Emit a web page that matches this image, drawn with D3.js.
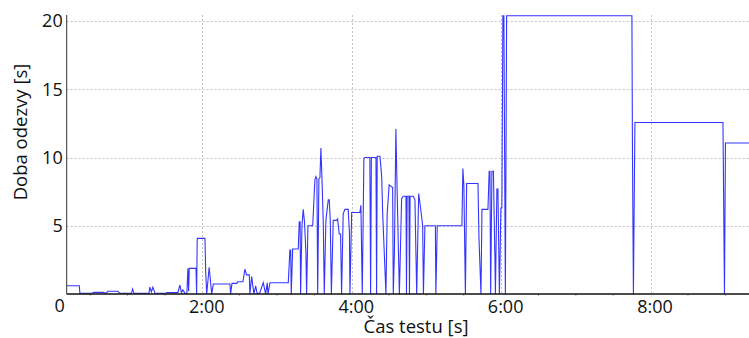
<!DOCTYPE html>
<html>
<head>
<meta charset="utf-8">
<script src="https://cdn.jsdelivr.net/npm/d3@7"></script>
<style>
  body { margin: 0; background: #fff; }
  text { font-family: "Open Sans", sans-serif; fill: #111; }
</style>
</head>
<body>
<div id="chart"></div>
<script>
// test time in seconds
const times = [
  11.2, 21.3, 21.8, 31.5, 33.1, 40.3, 42.7, 44.3, 52.3, 53.9,
  63.2, 64.1, 65.2, 77.2, 78.0, 79.2, 80.4, 82.1, 90.9, 91.7,
  100.5, 102.1, 103.3, 104.5, 106.1, 107.7, 108.5, 109.1, 109.6, 115.0,
  115.5, 116.0, 122.2, 122.8, 123.6, 125.6, 127.6, 128.9, 142.3, 142.8,
  143.9, 147.9, 148.3, 152.7, 154.3, 155.6, 157.8, 158.3, 159.7, 161.5,
  162.9, 164.2, 166.3, 169.0, 170.9, 172.2, 172.8, 174.4, 189.1, 190.4,
  191.0, 191.5, 192.6, 197.1, 197.9, 198.6, 199.0, 200.1, 201.1, 202.1,
  203.3, 203.8, 204.9, 208.7, 210.5, 211.3, 212.1, 212.7, 213.7, 214.5,
  215.3, 216.1, 217.2, 218.0, 219.3, 221.2, 222.0, 222.8, 223.7, 225.2,
  227.9, 228.7, 230.0, 231.1, 231.9, 233.2, 234.6, 237.2, 238.2, 238.6,
  240.0, 246.6, 247.4, 248.5, 249.8, 250.6, 254.6, 255.2, 255.8, 259.5,
  260.0, 260.5, 262.7, 264.1, 264.9, 267.5, 268.5, 270.1, 272.9, 273.4,
  274.3, 275.5, 276.6, 278.3, 280.1, 281.4, 283.6, 284.0, 284.5, 286.0,
  286.4, 286.9, 289.4, 290.8, 292.2, 293.8, 295.6, 297.0, 297.6, 298.8,
  307.2, 307.6, 308.7, 328.5, 329.3, 330.1, 331.3, 332.3, 341.4, 342.2,
  343.8, 344.6, 349.4, 350.4, 351.0, 351.6, 352.6, 353.8, 355.0, 355.4,
  356.6, 357.4, 358.6, 359.8, 360.6, 361.4, 362.2, 363.4, 364.4, 465.0,
  465.4, 466.2, 467.4, 538.1, 538.6, 539.3, 540.1, 559.0
];
// response time in seconds
const delays = [
  0.6, 0.6, 0.05, 0.05, 0.12, 0.12, 0.05, 0.2, 0.2, 0.05,
  0.05, 0.37, 0.05, 0.05, 0.5, 0.15, 0.5, 0.05, 0.05, 0.1,
  0.1, 0.66, 0.1, 0.3, 0.05, 0.05, 1.88, 0.2, 1.88, 1.88,
  0, 4.08, 4.08, 1.6, 0, 1.96, 0, 0.73, 0.73, 0,
  0.78, 0.78, 0.9, 0.9, 1.83, 1.4, 1.4, 0, 1.27, 0,
  0.59, 0, 0.1, 0.83, 0, 0.83, 0, 0.83, 0.83, 3.23,
  3.23, 0, 3.3, 3.3, 5.3, 5.3, 0, 5.0, 6.2, 5.3,
  3.0, 0, 5.0, 5.0, 8.4, 8.6, 8.4, 0, 8.46, 8.5,
  10.7, 8.6, 5.2, 0, 5.4, 6.9, 6.9, 5.4, 0, 5.4,
  5.4, 5.5, 4.4, 4.4, 0, 5.9, 6.2, 6.2, 4.5, 0,
  5.97, 5.97, 6.5, 0, 9.93, 10.0, 10.0, 0, 10.0, 10.0,
  0, 10.1, 10.1, 8.6, 5.9, 0, 5.9, 8.0, 7.8, 0,
  3.0, 12.1, 7.1, 0, 7.0, 7.16, 7.16, 0, 7.16, 7.16,
  0, 7.16, 7.16, 6.9, 0, 7.36, 6.1, 5.0, 0, 5.0,
  5.0, 0, 5.0, 5.0, 9.2, 7.9, 0, 8.1, 8.1, 4.1,
  0, 6.2, 6.2, 9.0, 9.0, 0, 9.0, 9.0, 2.6, 0,
  7.7, 7.7, 0, 6.3, 6.3, 20.4, 20.4, 0, 20.4, 20.4,
  11.0, 0, 12.57, 12.57, 7.4, 0, 11.07, 11.07
];
const xTicks = [120, 240, 360, 480];
const xMinorTicks = [30, 60, 90, 150, 180, 210, 270, 300, 330, 390, 420, 450, 510, 540];
const yTicks = [0, 5, 10, 15, 20];

const width = 749, height = 338;
const plotLeft = 66.7, plotRight = 749, plotTop = 15, plotBottom = 294;

const data = times.map((t, i) => ({ t: t, v: delays[i] }));

const x = d3.scaleLinear().domain([11.2, 559]).range([plotLeft, plotRight]);
const y = d3.scaleLinear().domain([0, 20.45]).range([plotBottom, plotTop]);

const fmt = s => s === 0 ? "0" : Math.floor(s / 60) + ":" + String(s % 60).padStart(2, "0");

const svg = d3.select("#chart").append("svg")
    .attr("width", width)
    .attr("height", height);

svg.append("defs").append("clipPath").attr("id", "plot")
  .append("rect")
    .attr("x", plotLeft).attr("y", plotTop - 2)
    .attr("width", plotRight - plotLeft).attr("height", plotBottom - plotTop + 2);

// grid
svg.append("g").selectAll("line")
  .data(yTicks.filter(d => d > 0))
  .join("line")
    .attr("x1", plotLeft).attr("x2", plotRight)
    .attr("y1", d => Math.round(y(d)) + 0.5).attr("y2", d => Math.round(y(d)) + 0.5)
    .attr("stroke", "#c4c4c4").attr("stroke-dasharray", "2,2");

svg.append("g").selectAll("line")
  .data(xTicks)
  .join("line")
    .attr("x1", d => Math.round(x(d)) + 0.5).attr("x2", d => Math.round(x(d)) + 0.5)
    .attr("y1", plotTop).attr("y2", plotBottom)
    .attr("stroke", "#c4c4c4").attr("stroke-dasharray", "2,2");

// x axis
const xAxis = svg.append("g")
    .attr("transform", `translate(0,${plotBottom})`)
    .call(d3.axisBottom(x).tickValues(xTicks).tickFormat(fmt).tickSize(0).tickPadding(6));
xAxis.select(".domain").remove();
xAxis.selectAll("text")
    .attr("font-size", 18)
    .attr("dx", 4)
    .style("font-family", "'Open Sans', sans-serif");

svg.append("g").selectAll("line")
  .data(xMinorTicks)
  .join("line")
    .attr("x1", d => x(d)).attr("x2", d => x(d))
    .attr("y1", plotBottom).attr("y2", plotBottom + 2)
    .attr("stroke", "#aaa");

// y axis
const yAxis = svg.append("g")
    .attr("transform", `translate(${plotLeft},0)`)
    .call(d3.axisLeft(y).tickValues(yTicks).tickSize(0).tickPadding(4));
yAxis.select(".domain").remove();
yAxis.selectAll("text")
    .attr("font-size", 18)
    .style("font-family", "'Open Sans', sans-serif");
yAxis.selectAll(".tick").filter(d => d === 0).select("text")
    .attr("x", -2).attr("dy", "0.95em");

svg.append("line")
    .attr("x1", plotLeft).attr("x2", plotLeft)
    .attr("y1", plotTop).attr("y2", plotBottom)
    .attr("stroke", "#333").attr("stroke-width", 1);

// series
svg.append("path")
    .datum(data)
    .attr("clip-path", "url(#plot)")
    .attr("fill", "none")
    .attr("stroke", "#3434ff")
    .attr("stroke-width", 1.1)
    .attr("d", d3.line().x(d => x(d.t)).y(d => y(d.v)));

svg.append("line")
    .attr("x1", plotLeft).attr("x2", plotRight)
    .attr("y1", plotBottom).attr("y2", plotBottom)
    .attr("stroke", "#111").attr("stroke-width", 1.6);

// titles
svg.append("text")
    .attr("x", 416).attr("y", 333)
    .attr("text-anchor", "middle")
    .attr("font-size", 18.5)
    .text("Čas testu [s]");

svg.append("text")
    .attr("transform", "translate(27,132) rotate(-90)")
    .attr("text-anchor", "middle")
    .attr("font-size", 18.5)
    .text("Doba odezvy [s]");
</script>
</body>
</html>
